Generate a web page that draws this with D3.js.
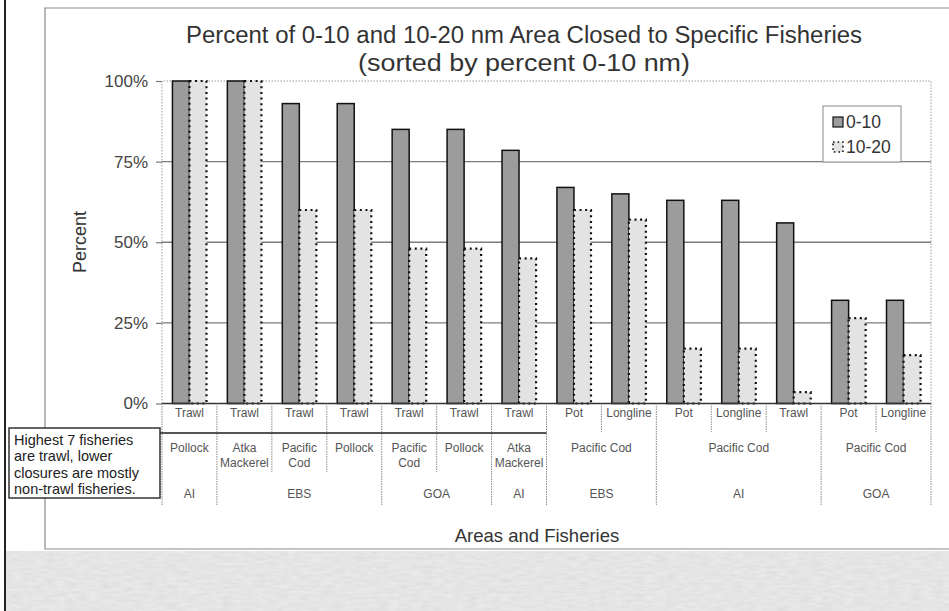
<!DOCTYPE html>
<html>
<head>
<meta charset="utf-8">
<script src="https://cdn.jsdelivr.net/npm/d3@7/dist/d3.min.js"></script>
<style>
  html, body { margin: 0; padding: 0; background: #fff; }
  svg { display: block; font-family: "Liberation Sans", Arial, sans-serif; }
</style>
</head>
<body>
<svg id="chart" width="949" height="611"></svg>
<script>
// Fishery categories (innermost level of the category axis)
const gearTypes = ["Trawl","Trawl","Trawl","Trawl","Trawl","Trawl","Trawl",
                   "Pot","Longline","Pot","Longline","Trawl","Pot","Longline"];
// Species level: label and number of categories it covers
const speciesLabels = ["Pollock","Atka\nMackerel","Pacific\nCod","Pollock","Pacific\nCod",
                       "Pollock","Atka\nMackerel","Pacific Cod","Pacific Cod","Pacific Cod"];
const speciesSpans  = [1,1,1,1,1,1,1,2,3,2];
// Area level: label and number of categories it covers
const areaLabels = ["AI","EBS","GOA","AI","EBS","AI","GOA"];
const areaSpans  = [1,3,2,1,2,3,2];
// Percent of area closed
const pct0to10  = [100,100,93,93,85,85,78.5,67,65,63,63,56,32,32];
const pct10to20 = [100,100,60,60,48,48,45,60,57,17,17,3.5,26.5,15];
const seriesNames = ["0-10","10-20"];
const yTicks = [0,25,50,75,100];
const noteLines = ["Highest 7 fisheries","are trawl, lower","closures are mostly","non-trawl fisheries."];

const svg = d3.select("#chart");

// page edge and chart frame
svg.append("line").attr("x1",5).attr("x2",5).attr("y1",0).attr("y2",611)
  .attr("stroke","#222").attr("stroke-width",2);

const defs = svg.append("defs");
const f = defs.append("filter").attr("id","grain").attr("x",0).attr("y",0).attr("width",1).attr("height",1);
f.append("feTurbulence").attr("type","fractalNoise").attr("baseFrequency","0.09 0.35").attr("numOctaves",2).attr("seed",4);
f.append("feColorMatrix").attr("type","matrix")
  .attr("values","0 0 0 0 0.55  0 0 0 0 0.55  0 0 0 0 0.55  0 0 0 0.9 -0.25");
svg.append("rect").attr("x",6).attr("y",551).attr("width",943).attr("height",60).attr("fill","#e9e9e9");
svg.append("rect").attr("x",6).attr("y",551).attr("width",943).attr("height",60)
  .attr("filter","url(#grain)").attr("opacity",0.55);

svg.append("path").attr("d","M950,8 H45 V549 H950")
  .attr("fill","none").attr("stroke","#8a8a8a").attr("stroke-width",1.2);

// plot area
const plotL = 162, plotR = 931, plotT = 81, plotB = 403.5;
const x0 = d3.scaleBand().domain(d3.range(gearTypes.length)).range([plotL, plotR])
  .paddingInner(0.38).paddingOuter(0.19);
const x1 = d3.scaleBand().domain(seriesNames).range([0, x0.bandwidth()]);
const y = d3.scaleLinear().domain([0,100]).range([plotB, plotT]);
const edge = i => plotL + i * x0.step();

// gridlines
svg.append("g").selectAll("line").data(yTicks.filter(t => t > 0 && t < 100)).join("line")
  .attr("x1",plotL).attr("x2",plotR).attr("y1",d=>y(d)).attr("y2",d=>y(d))
  .attr("stroke","#7d7d7d").attr("stroke-width",1.4);
// plot border (dotted)
svg.append("path").attr("d",`M${plotL},${plotB} V${plotT} H${plotR} V${plotB}`)
  .attr("fill","none").attr("stroke","#9a9a9a").attr("stroke-width",1).attr("stroke-dasharray","1.5,1.5");

// y axis
const yAxis = d3.axisLeft(y).tickValues(yTicks).tickFormat(d => d + "%").tickSize(6).tickPadding(8);
const ya = svg.append("g").attr("transform",`translate(${plotL},0)`).call(yAxis);
ya.select(".domain").remove();
ya.selectAll(".tick line").attr("stroke","#777").attr("stroke-width",1.2);
ya.selectAll(".tick text").attr("font-size",17).attr("fill","#444")
  .attr("font-family","'Liberation Sans', Arial, sans-serif");

svg.append("text").attr("transform","translate(86,242) rotate(-90)")
  .attr("text-anchor","middle").attr("font-size",18).attr("fill","#333").text("Percent");

// bars
const groups = svg.append("g").selectAll("g").data(gearTypes.map((g,i)=>i)).join("g")
  .attr("transform", i => `translate(${x0(i)},0)`);
groups.append("rect")
  .attr("x", x1("0-10")).attr("width", x1.bandwidth())
  .attr("y", i => y(pct0to10[i])).attr("height", i => y(0) - y(pct0to10[i]))
  .attr("fill","#9c9c9c").attr("stroke","#111").attr("stroke-width",1.5);
groups.append("rect")
  .attr("x", x1("10-20")).attr("width", x1.bandwidth())
  .attr("y", i => y(pct10to20[i])).attr("height", i => y(0) - y(pct10to20[i]))
  .attr("fill","#e3e3e3").attr("stroke","#111").attr("stroke-width",2.2)
  .attr("stroke-dasharray","2,3.6");

// category axis line
svg.append("line").attr("x1",plotL).attr("x2",plotR).attr("y1",plotB).attr("y2",plotB)
  .attr("stroke","#333").attr("stroke-width",1.6);

// multi-level category labels
const row1 = 432, row2 = 472, row3 = 506;
const sepColor = "#8a8a8a";
function cumStarts(spans){ let s=0; return spans.map(n => { const a=s; s+=n; return a; }); }
const spStarts = cumStarts(speciesSpans), arStarts = cumStarts(areaSpans);
const areaEdges = new Set(arStarts.concat([gearTypes.length]));
const speciesEdges = new Set(spStarts.concat([gearTypes.length]));
const sepG = svg.append("g");
d3.range(gearTypes.length + 1).forEach(i => {
  const yEnd = areaEdges.has(i) ? row3 : (speciesEdges.has(i) ? row2 : row1);
  sepG.append("line").attr("x1",edge(i)).attr("x2",edge(i)).attr("y1",plotB).attr("y2",yEnd)
    .attr("stroke",sepColor).attr("stroke-width",1).attr("stroke-dasharray","1.5,1");
});

const lab = svg.append("g").attr("font-size",12).attr("fill","#555").attr("text-anchor","middle");
gearTypes.forEach((g,i) => {
  lab.append("text").attr("x", edge(i) + x0.step()/2).attr("y", 417).text(g);
});
speciesLabels.forEach((s,k) => {
  const cx = edge(spStarts[k]) + speciesSpans[k]*x0.step()/2;
  s.split("\n").forEach((line,j) => {
    lab.append("text").attr("x",cx).attr("y",452 + j*15).text(line);
  });
});
areaLabels.forEach((a,k) => {
  const cx = edge(arStarts[k]) + areaSpans[k]*x0.step()/2;
  lab.append("text").attr("x",cx).attr("y",498).text(a);
});

svg.append("text").attr("x",537).attr("y",542).attr("text-anchor","middle")
  .attr("font-size",18.5).attr("fill","#333").text("Areas and Fisheries");

// titles
svg.append("text").attr("x",524).attr("y",43).attr("text-anchor","middle")
  .attr("font-size",23).attr("fill","#333")
  .attr("textLength",676).attr("lengthAdjust","spacingAndGlyphs")
  .text("Percent of 0-10 and 10-20 nm Area Closed to Specific Fisheries");
svg.append("text").attr("x",524).attr("y",71).attr("text-anchor","middle")
  .attr("font-size",23).attr("fill","#333")
  .attr("textLength",332).attr("lengthAdjust","spacingAndGlyphs")
  .text("(sorted by percent 0-10 nm)");

// legend
const lg = svg.append("g").attr("transform","translate(823,106)");
lg.append("rect").attr("width",78).attr("height",56).attr("fill","#fff").attr("stroke","#8a8a8a").attr("stroke-width",1);
lg.append("rect").attr("x",10).attr("y",11).attr("width",10).attr("height",10)
  .attr("fill","#9c9c9c").attr("stroke","#111").attr("stroke-width",1.2);
lg.append("rect").attr("x",10).attr("y",36).attr("width",10).attr("height",10)
  .attr("fill","#e3e3e3").attr("stroke","#111").attr("stroke-width",1.6).attr("stroke-dasharray","1.6,3");
lg.selectAll("text.leg").data(seriesNames).join("text").attr("class","leg")
  .attr("x",23).attr("y",(d,i)=>22 + i*25).attr("font-size",17.5).attr("fill","#333").text(d=>d);

// note box and connector
svg.append("line").attr("x1",157).attr("x2",edge(7)).attr("y1",433).attr("y2",433)
  .attr("stroke","#555").attr("stroke-width",2.2);
svg.append("rect").attr("x",9).attr("y",428).attr("width",151).attr("height",70)
  .attr("fill","#fff").attr("stroke","#333").attr("stroke-width",1.5);
svg.append("g").selectAll("text").data(noteLines).join("text")
  .attr("x",14).attr("y",(d,i)=>445 + i*16.3).attr("font-size",14.5).attr("fill","#222")
  .text(d=>d);
</script>
</body>
</html>
